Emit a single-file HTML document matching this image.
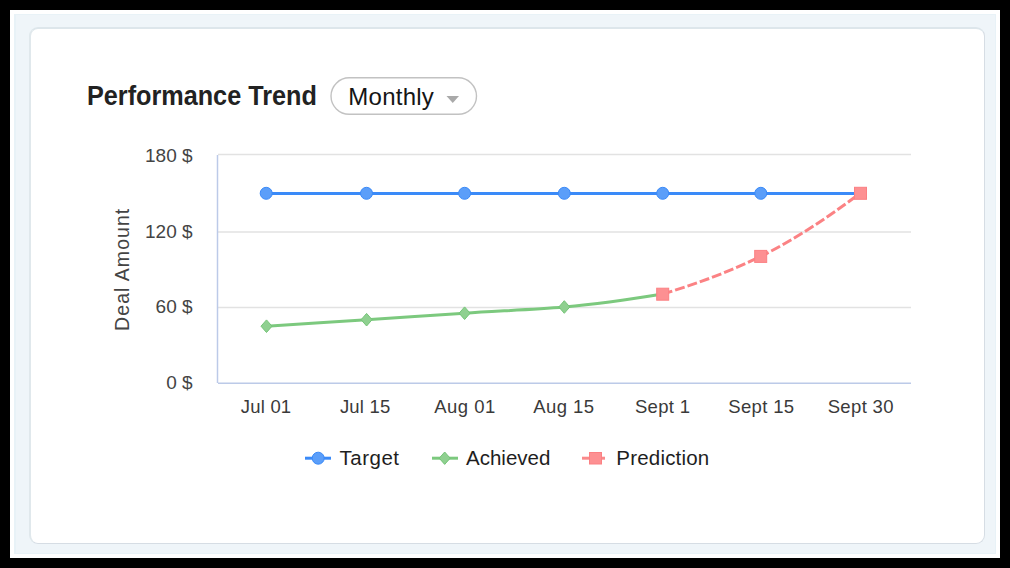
<!DOCTYPE html>
<html>
<head>
<meta charset="utf-8">
<style>
html,body{margin:0;padding:0;}
body{width:1010px;height:568px;background:#000;position:relative;overflow:hidden;font-family:"Liberation Sans",sans-serif;}
#white{position:absolute;left:10px;top:10px;width:990px;height:548px;background:#fff;}
#bg{position:absolute;left:14px;top:14px;width:979px;height:538px;background:#eff5f9;border-style:solid;border-color:#e8f2f7;border-width:1px 1px 1px 2px;}
#card{position:absolute;left:29px;top:27px;width:953px;height:514px;background:#fff;border-style:solid;border-width:2px 1px 1px 2px;border-color:#dde6eb #d6dde4 #d6dde4 #e0e8ec;border-radius:9px;}
#title{position:absolute;left:86.8px;top:81.3px;font-size:27.5px;font-weight:700;color:#222;white-space:nowrap;letter-spacing:0px;line-height:30px;transform:scaleX(0.917);transform-origin:0 0;}
#ddt{position:absolute;left:348.3px;top:82.8px;font-size:24px;color:#151515;white-space:nowrap;line-height:28px;letter-spacing:0.25px;}
svg{position:absolute;left:0;top:0;}
</style>
</head>
<body>
<div id="white"></div>
<div id="bg"></div>
<div id="card"></div>
<div id="title">Performance Trend</div>
<div id="ddt">Monthly</div>
<svg width="1010" height="568" viewBox="0 0 1010 568">
  <rect x="331" y="77.8" width="145.5" height="36.5" rx="18.25" fill="none" stroke="#c2c2c2" stroke-width="1.4"/>
  <!-- dropdown arrow -->
  <path d="M446.5 96 L459 96 L452.75 103 Z" fill="#a9a9a9"/>
  <!-- gridlines -->
  <g stroke="#e2e2e2" stroke-width="1.5" fill="none">
    <line x1="218" y1="154.5" x2="911" y2="154.5"/>
    <line x1="218" y1="232" x2="911" y2="232"/>
    <line x1="218" y1="307.5" x2="911" y2="307.5"/>
  </g>
  <!-- axes -->
  <line x1="217.5" y1="155" x2="217.5" y2="383" stroke="#bccae8" stroke-width="1.5"/>
  <line x1="218" y1="383.3" x2="911" y2="383.3" stroke="#bccae8" stroke-width="1.5"/>
  <!-- y labels -->
  <g font-family="Liberation Sans" font-size="19" fill="#444" text-anchor="end">
    <text x="192.6" y="161.6">180 $</text>
    <text x="192.6" y="238.1">120 $</text>
    <text x="192.6" y="313.3">60 $</text>
    <text x="192.6" y="388.9">0 $</text>
  </g>
  <!-- y title -->
  <text transform="translate(128.7,269.3) rotate(-90)" font-family="Liberation Sans" font-size="19.5" fill="#444" text-anchor="middle" letter-spacing="1.05">Deal Amount</text>
  <!-- x labels -->
  <g font-family="Liberation Sans" font-size="18.5" fill="#3a3a3a" text-anchor="middle">
    <text x="266.1" y="413" letter-spacing="0.2">Jul 01</text>
    <text x="365.2" y="413" letter-spacing="0.2">Jul 15</text>
    <text x="465" y="413" letter-spacing="0.45">Aug 01</text>
    <text x="563.9" y="413" letter-spacing="0.45">Aug 15</text>
    <text x="662.7" y="413" letter-spacing="0.35">Sept 1</text>
    <text x="761.4" y="413" letter-spacing="0.35">Sept 15</text>
    <text x="860.8" y="413" letter-spacing="0.35">Sept 30</text>
  </g>
  <!-- target line -->
  <line x1="266" y1="193.5" x2="860.5" y2="193.5" stroke="#3a8af8" stroke-width="3"/>
  <g fill="#5b9ef9" stroke="#3a8af8" stroke-width="1">
    <circle cx="266.2" cy="193.3" r="6"/>
    <circle cx="366.5" cy="193.3" r="6"/>
    <circle cx="464.6" cy="193.3" r="6"/>
    <circle cx="564.3" cy="193.3" r="6"/>
    <circle cx="662.7" cy="193.3" r="6"/>
    <circle cx="760.8" cy="193.3" r="6"/>
  </g>
  <!-- achieved line -->
  <path d="M266.5 326.2 C299.5 324.2 333.5 322 366.6 319.7 C399.5 317.3 431.5 315.5 464.6 313.2 C497.5 311 530.5 309.7 564.3 307 C597.5 304 630 299.3 662.7 294" stroke="#7cc97e" stroke-width="3" fill="none"/>
  <g fill="#8fd090" stroke="#74c477" stroke-width="1">
    <path d="M266.5 319.9 L272.0 326.2 L266.5 332.5 L261.0 326.2 Z"/>
    <path d="M366.6 313.4 L372.1 319.7 L366.6 326.0 L361.1 319.7 Z"/>
    <path d="M464.6 306.9 L470.1 313.2 L464.6 319.5 L459.1 313.2 Z"/>
    <path d="M564.3 300.7 L569.8 307 L564.3 313.3 L558.8 307 Z"/>
  </g>
  <!-- prediction line -->
  <path d="M662.7 294 C696 284 729 272 760.7 256.4 C794 240 827 218 860.5 193" stroke="#fb8284" stroke-width="3" fill="none" stroke-dasharray="10 3"/>
  <g fill="#fd9092" stroke="#fb8083" stroke-width="1">
    <rect x="656.7" y="288.2" width="12" height="12"/>
    <rect x="754.7" y="250.4" width="12" height="12"/>
    <rect x="854.5" y="187.3" width="12" height="12"/>
  </g>
  <!-- legend -->
  <line x1="305" y1="458.2" x2="331" y2="458.2" stroke="#3a8af8" stroke-width="3"/>
  <circle cx="318.2" cy="458.2" r="6" fill="#5b9ef9" stroke="#3a8af8" stroke-width="1"/>
  <line x1="432" y1="458.2" x2="458" y2="458.2" stroke="#7cc97e" stroke-width="3"/>
  <path d="M444.7 452 L450.2 458.2 L444.7 464.4 L439.2 458.2 Z" fill="#8fd090" stroke="#74c477" stroke-width="1"/>
  <line x1="582" y1="458.2" x2="605" y2="458.2" stroke="#fa8a8b" stroke-width="3"/>
  <rect x="589.5" y="452.5" width="12" height="11.5" fill="#fd9092" stroke="#fb8083" stroke-width="1"/>
  <g font-family="Liberation Sans" font-size="20.5" fill="#1e1e1e">
    <text x="339.5" y="464.9" letter-spacing="0.5">Target</text>
    <text x="466" y="464.9">Achieved</text>
    <text x="616.3" y="464.9" letter-spacing="0.2">Prediction</text>
  </g>
</svg>
</body>
</html>
